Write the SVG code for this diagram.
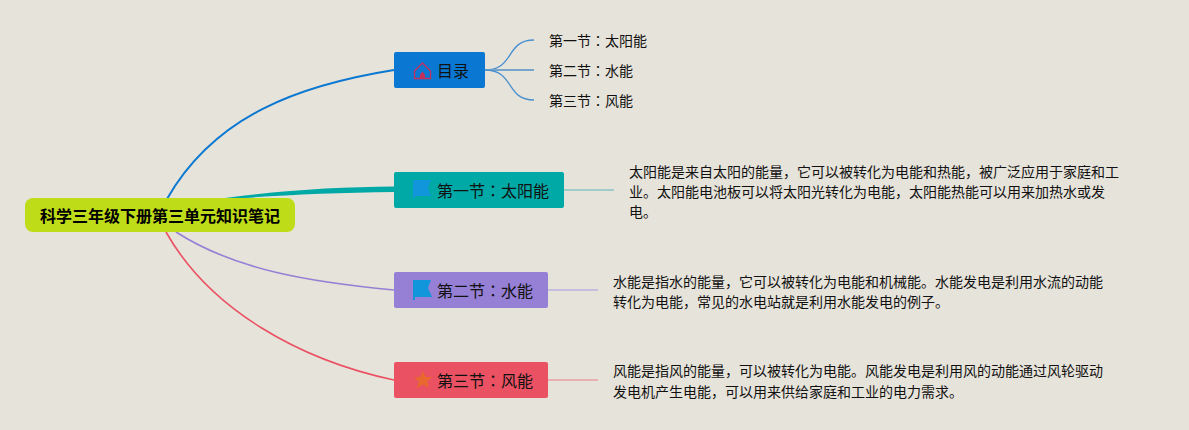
<svg xmlns="http://www.w3.org/2000/svg" width="1189" height="430" viewBox="0 0 1189 430">
<style>
text{font-family:"Liberation Sans","Noto Sans CJK JP",sans-serif;fill:#111}
.t{font-size:16px}
.s{font-size:14px}
.b{font-size:14px}
.r{font-size:16px;font-weight:700;fill:#000}
.c{fill:none}
</style>
<rect width="1189" height="430" fill="#e6e3da"/>
<g id="connectors">
<path class="c" d="M167 199C215 115 300 85 394 70" stroke="#0a78d2" stroke-width="2"/>
<path d="M225 198C285 190 340 187 394 186.500V192C340 192.500 285 195 245 198Z" fill="#00a9a6"/>
<path class="c" d="M176 232C235 270 310 282 394 290" stroke="#9680d5" stroke-width="1.600"/>
<path class="c" d="M166 232C210 310 300 360 394 380" stroke="#ea5163" stroke-width="1.600"/>
<path class="c" d="M485 70C515 70 505 40 534 40" stroke="#4a90d0" stroke-width="1.300"/>
<path class="c" d="M485 70H534" stroke="#76a5cb" stroke-width="2"/>
<path class="c" d="M485 70C515 70 505 100 534 100" stroke="#4a90d0" stroke-width="1.300"/>
<path class="c" d="M564 190H614" stroke="#8bc5c4" stroke-width="1.500"/>
<path class="c" d="M548 290H598" stroke="#bcb0dc" stroke-width="1.500"/>
<path class="c" d="M548 380H598" stroke="#eb9ba4" stroke-width="1.500"/>
</g>
<g id="root"><rect x="25" y="198" width="270" height="34" rx="8" fill="#bfdc18"/><text class="r" x="40" y="222">科学三年级下册第三单元知识笔记</text></g>
<g id="n-mulu"><rect x="394" y="52" width="91" height="36" rx="2" fill="#0a78d2"/>
<path d="M414.500 71L422.500 63L430.500 71V78.500H414.500Z" fill="none" stroke="#c2325c" stroke-width="1.300"/><path d="M420 78.500V74.500L422.500 71.500L425 74.500V78.500Z" fill="#c2325c"/>
<text class="t" x="437" y="77">目录</text></g>
<g id="n-solar"><rect x="394" y="172" width="170" height="36" rx="2" fill="#00a9a6"/>
<path d="M413 180H431L428 188L431 196H416L413 199Z" fill="#1296db"/>
<text class="t" x="437" y="197">第一节：太阳能</text></g>
<g id="n-water"><rect x="394" y="272" width="154" height="36" rx="2" fill="#9680d5"/>
<path d="M413 280H431L428 288L432 297H415V300H413Z" fill="#1296db"/>
<text class="t" x="437" y="297">第二节：水能</text></g>
<g id="n-wind"><rect x="394" y="362" width="154" height="36" rx="2" fill="#ea5163"/>
<path d="M423 371L425.800 377H432L427.300 381.500L429 388L423 384.500L417 388L418.700 381.500L414 377H420.200Z" fill="#e8682f"/>
<text class="t" x="437" y="387">第三节：风能</text></g>
<g id="toc-1"><text class="s" x="549" y="46">第一节：太阳能</text></g>
<g id="toc-2"><text class="s" x="549" y="76">第二节：水能</text></g>
<g id="toc-3"><text class="s" x="549" y="106">第三节：风能</text></g>
<g id="d-solar"><text class="b" x="629" y="177">太阳能是来自太阳的能量，它可以被转化为电能和热能，被广泛应用于家庭和工</text><text class="b" x="629" y="197">业。太阳能电池板可以将太阳光转化为电能，太阳能热能可以用来加热水或发</text><text class="b" x="629" y="217">电。</text></g>
<g id="d-water"><text class="b" x="613" y="287">水能是指水的能量，它可以被转化为电能和机械能。水能发电是利用水流的动能</text><text class="b" x="613" y="307">转化为电能，常见的水电站就是利用水能发电的例子。</text></g>
<g id="d-wind"><text class="b" x="613" y="376">风能是指风的能量，可以被转化为电能。风能发电是利用风的动能通过风轮驱动</text><text class="b" x="613" y="397">发电机产生电能，可以用来供给家庭和工业的电力需求。</text></g>
</svg>
